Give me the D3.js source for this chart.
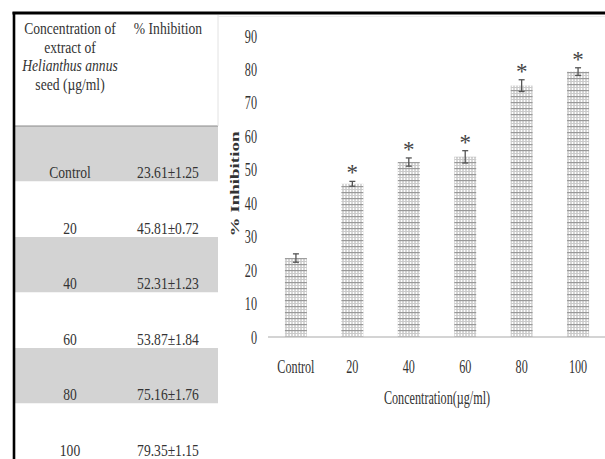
<!DOCTYPE html>
<html>
<head>
<meta charset="utf-8">
<script src="https://cdn.jsdelivr.net/npm/d3@7"></script>
<style>
body { margin: 0; background: #fff; }
text { font-family: "Liberation Serif", "Times New Roman", serif; fill: #333; }
</style>
</head>
<body>
<svg id="fig" width="605" height="459"></svg>
<script>
// values
var categories = ["Control", "20", "40", "60", "80", "100"];
var means = [23.61, 45.81, 52.31, 53.87, 75.16, 79.35];
var errors = [1.25, 0.72, 1.23, 1.84, 1.76, 1.15];
var significant = [false, true, true, true, true, true];
var yTicks = [0, 10, 20, 30, 40, 50, 60, 70, 80, 90];
var headerLeft = ["Concentration of", "extract of", "Helianthus annus", "seed (\u00b5g/ml)"];
var headerRight = "% Inhibition";
var xTitle = "Concentration(\u00b5g/ml)";
var yTitle = "% Inhibition";

var svg = d3.select("#fig");
svg.append("rect").attr("width", 605).attr("height", 459).attr("fill", "#fff");

function stext(g, x, y, str, sx, anchor)
{
	return g.append("text")
		.attr("transform", "translate(" + x + "," + y + ") scale(" + sx + ",1)")
		.attr("text-anchor", anchor || "middle")
		.text(str);
}

// ---------- table ----------
var table = svg.append("g");
var rowTop = 126, rowH = 55.5, tLeft = 15, tRight = 218;

table.selectAll(".band")
	.data(categories)
	.enter()
	.append("rect")
	.attr("x", tLeft)
	.attr("y", function(d, i) { return rowTop + i * rowH; })
	.attr("width", tRight - tLeft)
	.attr("height", rowH)
	.attr("fill", function(d, i) { return i % 2 == 0 ? "#d3d3d3" : "#fff"; });

table.append("line")
	.attr("x1", tLeft).attr("x2", tRight)
	.attr("y1", rowTop).attr("y2", rowTop)
	.attr("stroke", "#8a8a8a").attr("stroke-width", 1);

table.append("line")
	.attr("x1", tRight).attr("x2", tRight)
	.attr("y1", 15).attr("y2", rowTop)
	.attr("stroke", "#e2e2e2").attr("stroke-width", 1);

var headerY = [34, 52.5, 71, 89.5];
headerLeft.forEach(function(s, i)
{
	var t = stext(table, 70, headerY[i], s, 0.85);
	t.style("font-size", "16px");
	if (i == 2) t.style("font-style", "italic");
});
stext(table, 168, 34, headerRight, 0.8).style("font-size", "17px");

categories.forEach(function(c, i)
{
	var by = rowTop + i * rowH + 52;
	stext(table, 70, by, c, 0.8).style("font-size", "17px");
	stext(table, 168, by, means[i].toFixed(2) + "\u00b1" + errors[i].toFixed(2), 0.8).style("font-size", "17px");
});

// frame
svg.append("line").attr("x1", 12.5).attr("x2", 605).attr("y1", 13).attr("y2", 13)
	.attr("stroke", "#000").attr("stroke-width", 3);
svg.append("line").attr("x1", 14).attr("x2", 14).attr("y1", 12).attr("y2", 459)
	.attr("stroke", "#000").attr("stroke-width", 2.6);
svg.append("line").attr("x1", tRight).attr("x2", 605).attr("y1", 16.5).attr("y2", 16.5)
	.attr("stroke", "#ececec").attr("stroke-width", 1);

// ---------- chart ----------
var x = d3.scaleBand()
	.domain(categories)
	.range([268, 606])
	.paddingInner(0.61)
	.paddingOuter(0.3);

var y = d3.scaleLinear()
	.domain([0, 90])
	.range([337, 36]);

var defs = svg.append("defs");
var pat = defs.append("pattern")
	.attr("id", "grid")
	.attr("patternUnits", "userSpaceOnUse")
	.attr("width", 3)
	.attr("height", 6);
pat.append("rect").attr("width", 3).attr("height", 6).attr("fill", "#fff");
pat.append("line").attr("x1", 1).attr("x2", 1).attr("y1", 0).attr("y2", 6)
	.attr("stroke", "#b0b0b0").attr("stroke-width", 1);
pat.append("line").attr("x1", 0).attr("x2", 3).attr("y1", 3.5).attr("y2", 3.5)
	.attr("stroke", "#cacaca").attr("stroke-width", 1);
pat.append("line").attr("x1", 0).attr("x2", 3).attr("y1", 0.6).attr("y2", 0.6)
	.attr("stroke", "#999").attr("stroke-width", 1.2);

var chart = svg.append("g");
var idx = d3.range(categories.length);
function cx(i) { return x(categories[i]) + x.bandwidth() / 2; }

chart.selectAll(".bar")
	.data(idx)
	.enter()
	.append("rect")
	.attr("class", "bar")
	.attr("x", function(i) { return x(categories[i]); })
	.attr("y", function(i) { return y(means[i]); })
	.attr("width", x.bandwidth())
	.attr("height", function(i) { return y(0) - y(means[i]); })
	.attr("fill", "url(#grid)");

// baseline
chart.append("line")
	.attr("x1", x.range()[0]).attr("x2", x.range()[1])
	.attr("y1", y(0)).attr("y2", y(0))
	.attr("stroke", "#c6c6c6").attr("stroke-width", 1.5);

// error bars
var eb = chart.selectAll(".err")
	.data(idx)
	.enter()
	.append("g")
	.attr("class", "err")
	.attr("stroke", "#555")
	.attr("stroke-width", 1.3);

eb.append("line")
	.attr("x1", cx)
	.attr("x2", cx)
	.attr("y1", function(i) { return y(means[i] - errors[i]); })
	.attr("y2", function(i) { return y(means[i] + errors[i]); });

[-1, 1].forEach(function(s)
{
	eb.append("line")
		.attr("x1", function(i) { return cx(i) - 3; })
		.attr("x2", function(i) { return cx(i) + 3; })
		.attr("y1", function(i) { return y(means[i] + s * errors[i]); })
		.attr("y2", function(i) { return y(means[i] + s * errors[i]); });
});

// significance stars
chart.selectAll(".star")
	.data(idx.filter(function(i) { return significant[i]; }))
	.enter()
	.append("text")
	.attr("class", "star")
	.attr("x", cx)
	.attr("y", function(i) { return y(means[i] + errors[i]) - 1; })
	.attr("text-anchor", "middle")
	.style("font-size", "23px")
	.style("fill", "#444")
	.text("*");

// y axis
var yAxis = d3.axisLeft(y).tickValues(yTicks).tickSize(0).tickPadding(0);
var gy = chart.append("g")
	.attr("transform", "translate(257,0)")
	.call(yAxis);
gy.select(".domain").remove();
gy.selectAll("text")
	.attr("transform", "scale(0.64,1)")
	.style("font-size", "19px")
	.attr("fill", null);
gy.attr("font-family", null).attr("font-size", null);

// x axis
var xAxis = d3.axisBottom(x).tickSize(0).tickPadding(0);
var gx = chart.append("g")
	.attr("transform", "translate(0,373)")
	.call(xAxis);
gx.select(".domain").remove();
gx.selectAll("text")
	.attr("dy", 0)
	.attr("y", 0)
	.attr("transform", "scale(0.64,1)")
	.style("font-size", "19px")
	.attr("fill", null);
gx.attr("font-family", null).attr("font-size", null);

// titles
stext(chart, 437, 404, xTitle, 0.64).style("font-size", "19px");

chart.append("text")
	.attr("transform", "translate(239,184) scale(0.64,1) rotate(-90)")
	.attr("text-anchor", "middle")
	.style("font-size", "19px")
	.style("font-weight", "bold")
	.text(yTitle);
</script>
</body>
</html>
